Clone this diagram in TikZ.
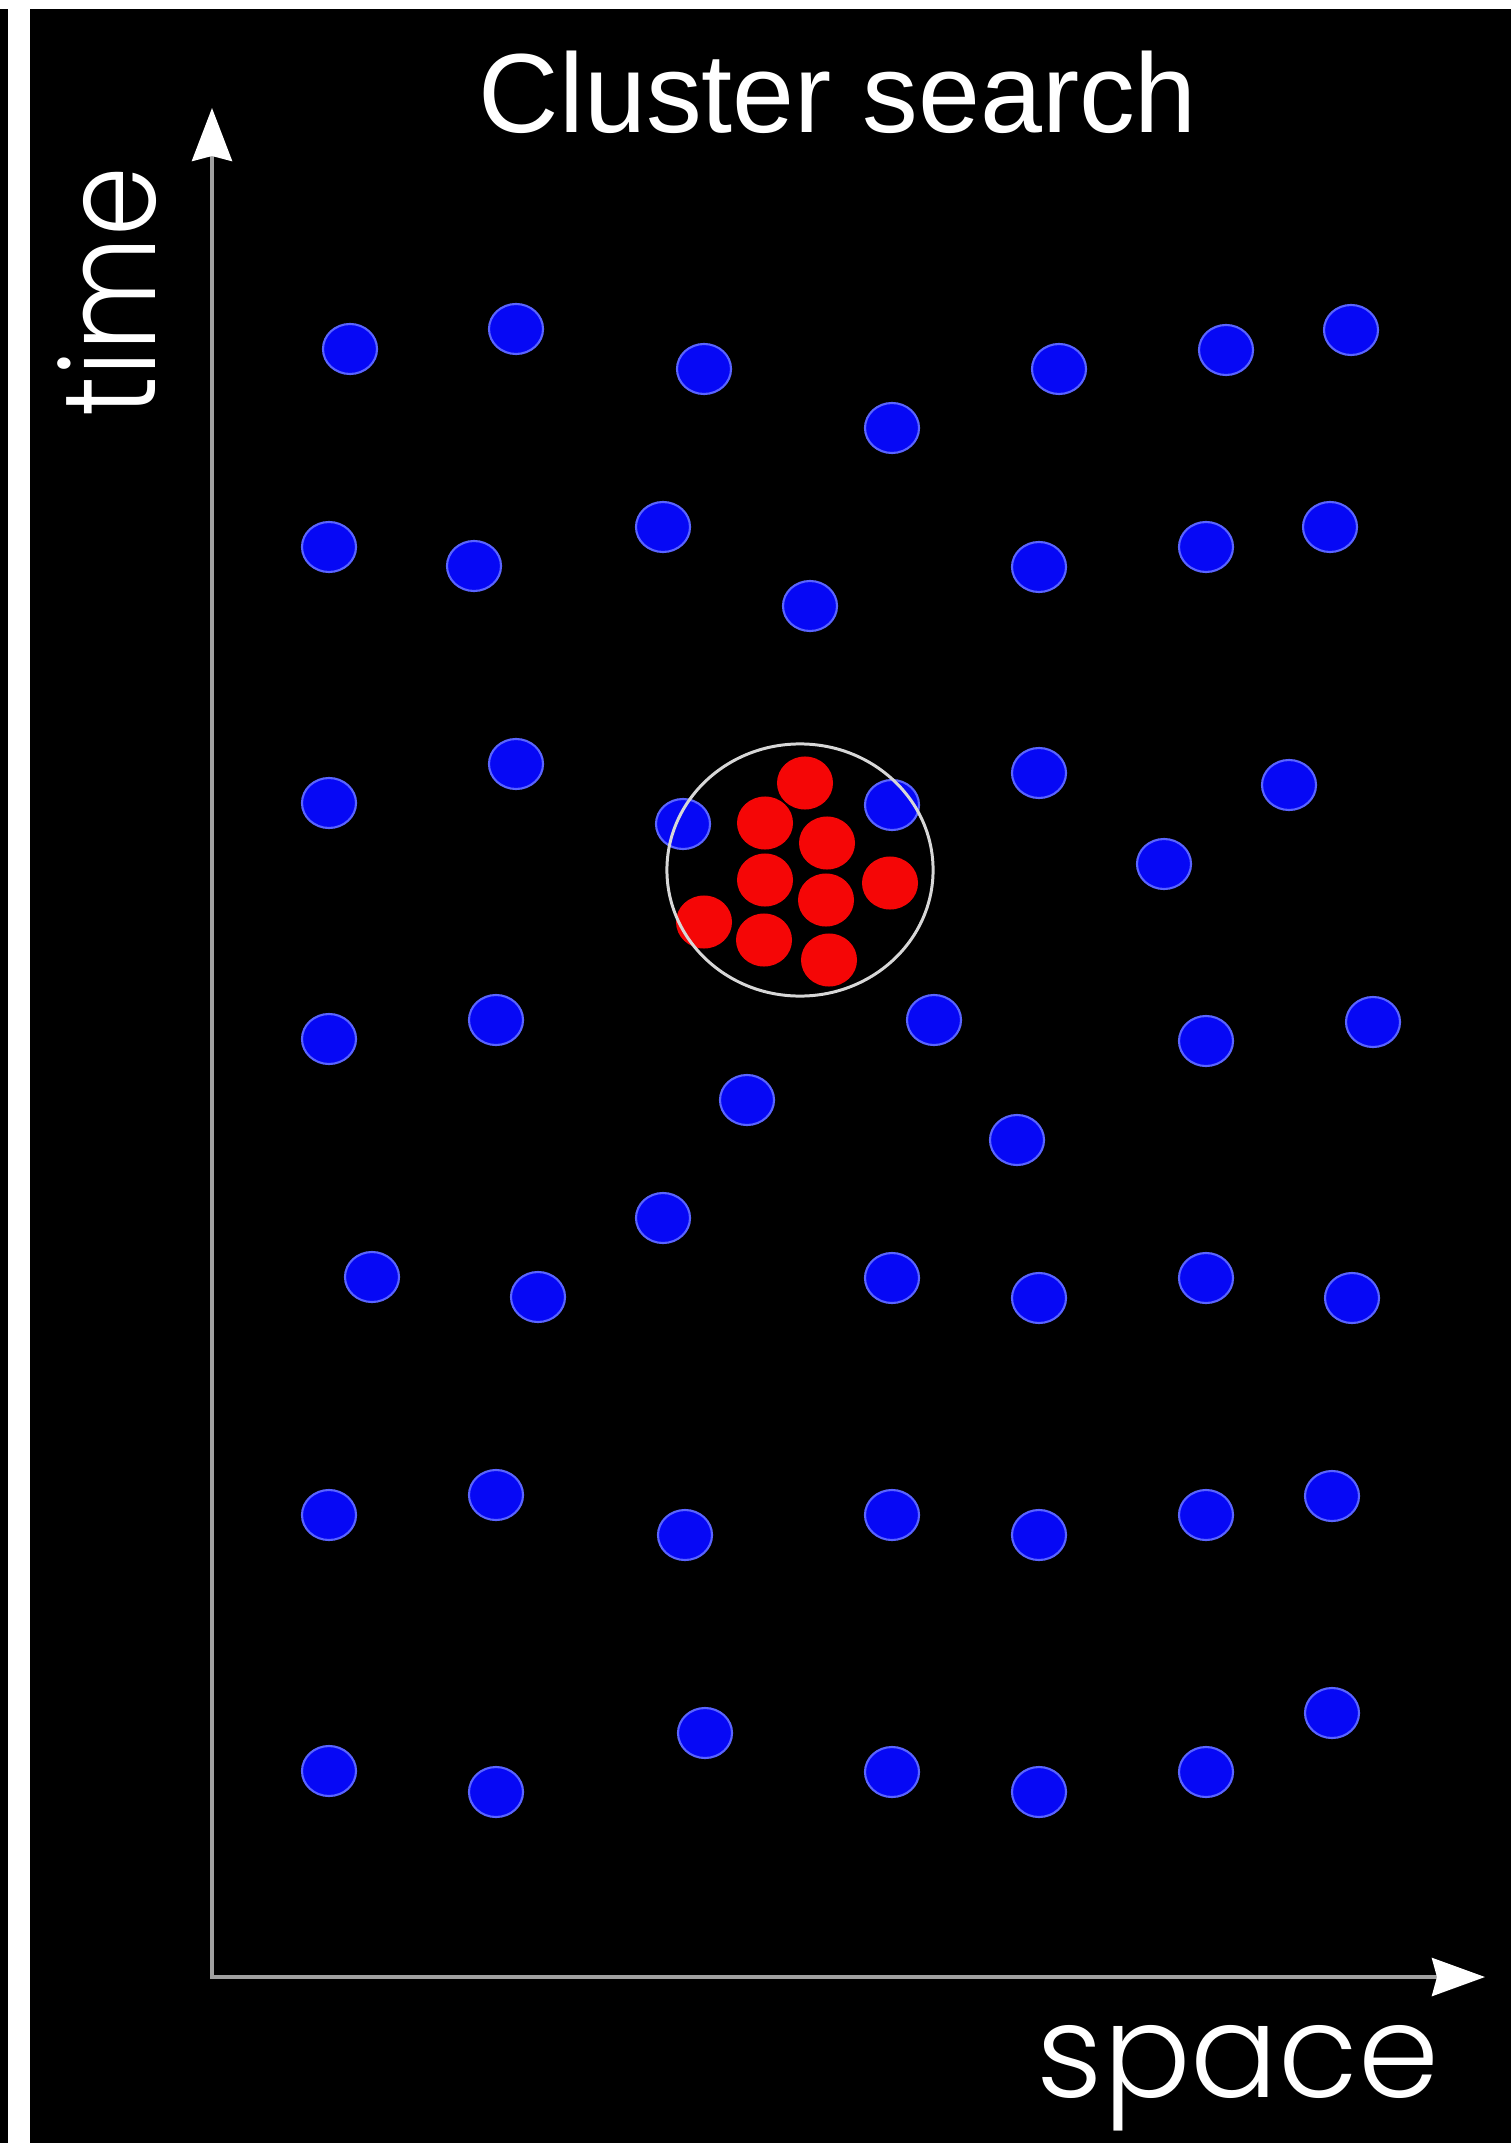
\documentclass[tikz,border=0pt]{standalone}
\usepackage{fontspec}
\setmainfont{Liberation Sans}
\newfontfamily\axisfont{Poppins}[UprightFont=* Light]
\usetikzlibrary{arrows.meta,shapes.geometric}
\definecolor{dotblue}{RGB}{6,8,245}
\definecolor{dotedge}{RGB}{90,100,255}
\definecolor{dotred}{RGB}{245,6,6}
\definecolor{axisgray}{RGB}{160,160,160}
\definecolor{ringgray}{RGB}{215,215,215}
\tikzset{
  x=0.01cm, y=-0.01cm,
  bdot/.style={ellipse, inner sep=0pt, minimum width=0.54cm, minimum height=0.50cm, fill=dotblue, draw=dotedge, line width=0.6pt},
  rdot/.style={ellipse, inner sep=0pt, minimum width=0.56cm, minimum height=0.53cm, fill=dotred},
  axisline/.style={draw=axisgray, line width=1.15pt, line join=miter,
     {Stealth[length=0.53cm, width=0.40cm, inset=0.05cm, color=white]}-{Stealth[length=0.53cm, width=0.38cm, inset=0.05cm, color=white]}},
  ring/.style={ellipse, draw=ringgray, line width=0.85pt, minimum width=2.66cm, minimum height=2.52cm, inner sep=0pt},
  axislabel/.style={text=white, inner sep=0pt, font=\axisfont\fontsize{37}{40}\selectfont},
  titlelabel/.style={text=white, inner sep=0pt, font=\fontsize{32}{36}\selectfont}
}
\begin{document}
\begin{tikzpicture}
\useasboundingbox (0,0) rectangle (1511,2143);
\fill[white] (0,0) rectangle (1511,2143);
\fill[black] (0,9) rectangle (8,2143);
\fill[black] (30,9) rectangle (1511,2143);

% title
\node[titlelabel, anchor=base, xscale=0.99] (title) at (838,133) {Cluster search};

% axes
\coordinate (origin) at (212,1977);
\coordinate (ytip) at (212,108);
\coordinate (xtip) at (1485,1977);
\draw[axisline] (ytip) -- (origin) -- (xtip);
\node[axislabel, anchor=base, rotate=90] (timelabel) at (155,292) {\scalebox{0.86}[1]{time}};
\node[axislabel, anchor=base] (spacelabel) at (1238,2097) {space};

% blue dots
\foreach \px/\py [count=\i] in {
  350/349, 516/329, 704/369, 892/428, 1059/369, 1226/350, 1351/330,
  329/547, 474/566, 663/527, 810/606, 1039/567, 1206/547, 1330/527,
  329/803, 516/764, 683/824, 892/805, 1039/773, 1289/785, 1164/864,
  329/1039, 496/1020, 934/1020, 1206/1041, 1373/1022, 747/1100, 1017/1140,
  663/1218, 372/1277, 538/1297, 892/1278, 1039/1298, 1206/1278, 1352/1298,
  329/1515, 496/1495, 685/1535, 892/1515, 1039/1535, 1206/1515, 1332/1496,
  329/1771, 496/1792, 705/1733, 892/1772, 1039/1792, 1206/1772, 1332/1713}
  \node[bdot] (b\i) at (\px,\py) {};

% red dots
\foreach \px/\py [count=\i] in {
  805/783, 765/823, 827/843, 765/880, 890/883, 826/900, 704/922, 764/940, 829/960}
  \node[rdot] (r\i) at (\px,\py) {};

% cluster ring
\node[ring] (cluster) at (800,870) {};
\end{tikzpicture}
\end{document}
